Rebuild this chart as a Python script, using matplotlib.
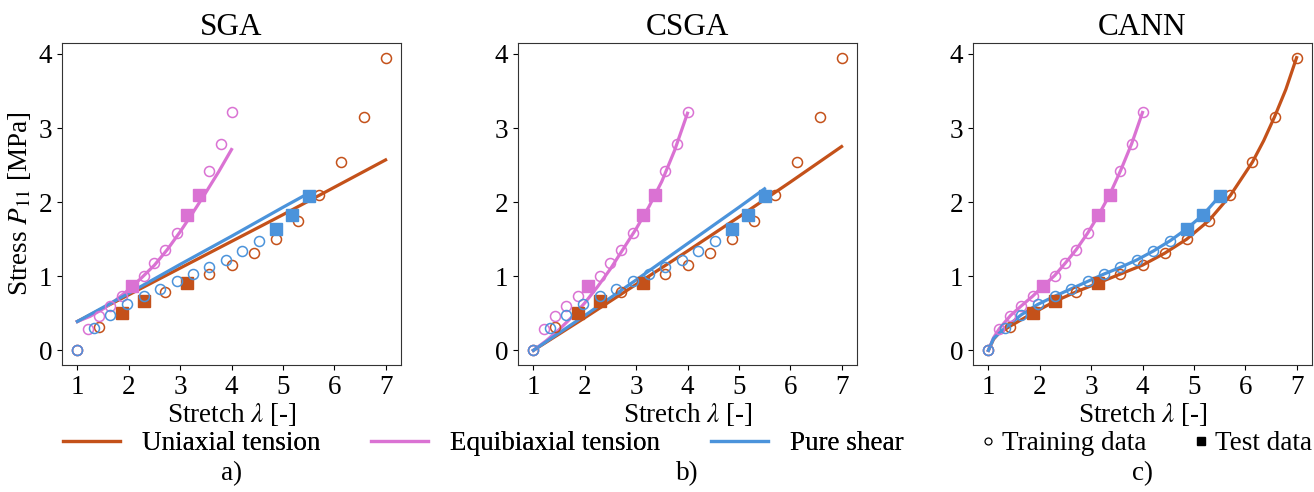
import matplotlib
matplotlib.use('Agg')
import matplotlib.pyplot as plt
from matplotlib.lines import Line2D

plt.rcParams['font.family'] = ['Liberation Serif', 'DejaVu Serif']
plt.rcParams['mathtext.fontset'] = 'stix'
plt.rcParams['axes.edgecolor'] = '#333333'

c_uni = '#C4511A'
c_equi = '#DA72D3'
c_ps = '#4B93DB'

# Messdaten (Treloar): stretch / stress
lam_uni = [1.0, 1.43, 1.86, 2.29, 2.71, 3.14, 3.57, 4.0, 4.43, 4.86, 5.29, 5.71, 6.14, 6.57, 7.0]
P_uni = [0.0, 0.32, 0.50, 0.66, 0.79, 0.91, 1.03, 1.15, 1.31, 1.50, 1.75, 2.09, 2.54, 3.15, 3.95]
test_uni = [2, 3, 5]

lam_equi = [1.0, 1.21, 1.43, 1.64, 1.86, 2.07, 2.29, 2.5, 2.71, 2.93, 3.14, 3.36, 3.57, 3.79, 4.0]
P_equi = [0.0, 0.29, 0.47, 0.60, 0.73, 0.87, 1.01, 1.18, 1.36, 1.58, 1.82, 2.10, 2.42, 2.79, 3.21]
test_equi = [5, 10, 11]

lam_ps = [1.0, 1.32, 1.64, 1.96, 2.29, 2.61, 2.93, 3.25, 3.57, 3.89, 4.21, 4.54, 4.86, 5.18, 5.5]
P_ps = [0.0, 0.30, 0.48, 0.62, 0.73, 0.83, 0.94, 1.03, 1.12, 1.22, 1.34, 1.48, 1.64, 1.83, 2.08]
test_ps = [12, 13, 14]

# Modellkurven SGA
sga_uni_x = [1, 2, 3, 4, 5, 6, 7]
sga_uni_y = [0.39, 0.75, 1.11, 1.47, 1.83, 2.20, 2.57]
sga_equi_x = [1, 1.25, 1.5, 1.75, 2, 2.25, 2.5, 2.75, 3, 3.25, 3.5, 3.75, 4]
sga_equi_y = [0.39, 0.46, 0.56, 0.68, 0.82, 0.98, 1.15, 1.36, 1.60, 1.86, 2.13, 2.41, 2.71]
sga_ps_x = [1, 2, 3, 4, 5, 5.5]
sga_ps_y = [0.39, 0.77, 1.16, 1.54, 1.93, 2.12]

# Modellkurven CSGA
csga_uni_x = [1, 2, 3, 4, 5, 6, 7]
csga_uni_y = [0.0, 0.44, 0.89, 1.34, 1.80, 2.27, 2.75]
csga_equi_x = [1, 1.25, 1.5, 1.75, 2, 2.25, 2.5, 2.75, 3, 3.25, 3.5, 3.75, 4]
csga_equi_y = [0.0, 0.13, 0.28, 0.45, 0.64, 0.86, 1.10, 1.37, 1.64, 1.94, 2.28, 2.70, 3.20]
csga_ps_x = [1, 2, 3, 4, 5, 5.5]
csga_ps_y = [0.0, 0.47, 0.95, 1.44, 1.93, 2.18]

# Modellkurven CANN
cann_uni_x = [1, 1.1, 1.2, 1.43, 1.86, 2.29, 2.71, 3.14, 3.57, 4.0, 4.43, 4.86, 5.29, 5.71, 6.14, 6.36, 6.57, 6.79, 7.0]
cann_uni_y = [0.0, 0.15, 0.23, 0.33, 0.50, 0.66, 0.79, 0.91, 1.03, 1.15, 1.31, 1.50, 1.75, 2.09, 2.54, 2.83, 3.15, 3.52, 3.95]
cann_equi_x = [1, 1.1, 1.21, 1.43, 1.64, 1.86, 2.07, 2.29, 2.5, 2.71, 2.93, 3.14, 3.36, 3.57, 3.79, 4.0]
cann_equi_y = [0.0, 0.17, 0.29, 0.47, 0.60, 0.73, 0.87, 1.01, 1.18, 1.36, 1.58, 1.82, 2.10, 2.42, 2.79, 3.21]
cann_ps_x = [1, 1.1, 1.32, 1.64, 1.96, 2.29, 2.61, 2.93, 3.25, 3.57, 3.89, 4.21, 4.54, 4.86, 5.18, 5.5]
cann_ps_y = [0.0, 0.16, 0.30, 0.48, 0.62, 0.73, 0.83, 0.93, 1.03, 1.12, 1.22, 1.34, 1.48, 1.64, 1.83, 2.08]

titles = ['SGA', 'CSGA', 'CANN']
sublabels = ['a)', 'b)', 'c)']
models = [
    [(sga_uni_x, sga_uni_y), (sga_equi_x, sga_equi_y), (sga_ps_x, sga_ps_y)],
    [(csga_uni_x, csga_uni_y), (csga_equi_x, csga_equi_y), (csga_ps_x, csga_ps_y)],
    [(cann_uni_x, cann_uni_y), (cann_equi_x, cann_equi_y), (cann_ps_x, cann_ps_y)],
]
data = [(lam_uni, P_uni, test_uni, c_uni),
        (lam_equi, P_equi, test_equi, c_equi),
        (lam_ps, P_ps, test_ps, c_ps)]

fig = plt.figure(figsize=(13.14, 4.92), dpi=100)
lefts = [62, 518, 973]
fs = 19.5

for k in range(3):
    ax = fig.add_axes([lefts[k] / 1314, 127 / 492, 339 / 1314, 322 / 492])
    for (mx, my), (lx, ly, ti, col) in zip(models[k], data):
        ax.plot(mx, my, color=col, lw=2.3, zorder=2)
        tr = [i for i in range(len(lx)) if i not in ti]
        ax.plot([lx[i] for i in tr], [ly[i] for i in tr], 'o', ms=7.2,
                mfc='none', mec=col, mew=1.1, zorder=3)
        ax.plot([lx[i] for i in ti], [ly[i] for i in ti], 's', ms=8,
                color=col, zorder=3)
    ax.set_xticks(range(1, 8))
    ax.set_yticks(range(0, 5))
    ax.tick_params(labelsize=fs)
    ax.set_title(titles[k], fontsize=22.5)
    ax.set_xlabel(r'Stretch $\lambda$ [-]', fontsize=fs, labelpad=1)
    if k == 0:
        ax.set_ylabel(r'Stress $P_{11}$ [MPa]', fontsize=fs)
    fig.text((lefts[k] + 169.5) / 1314, 18 / 492, sublabels[k], fontsize=fs,
             ha='center', va='center')

h_lines = [Line2D([], [], color=c_uni, lw=2.3),
           Line2D([], [], color=c_equi, lw=2.3),
           Line2D([], [], color=c_ps, lw=2.3)]
leg1 = fig.legend(h_lines, ['Uniaxial tension', 'Equibiaxial tension', 'Pure shear'],
                  loc='center left', bbox_to_anchor=(63 / 1314, 48 / 492), ncol=3,
                  frameon=False, fontsize=fs, handlelength=2.1, columnspacing=1.9,
                  borderpad=0, borderaxespad=0, handletextpad=0.8)
h_marks = [Line2D([], [], ls='none', marker='o', ms=5, mfc='none', mec='k', mew=0.9),
           Line2D([], [], ls='none', marker='s', ms=5.5, color='k')]
fig.legend(h_marks, ['Training data', 'Test data'],
           loc='center right', bbox_to_anchor=(1312 / 1314, 48 / 492), ncol=2,
           frameon=False, fontsize=fs, handlelength=0.3, columnspacing=1.9,
           borderpad=0, borderaxespad=0, handletextpad=0.35)
fig.add_artist(leg1)

plt.savefig('out.png', dpi=100)
